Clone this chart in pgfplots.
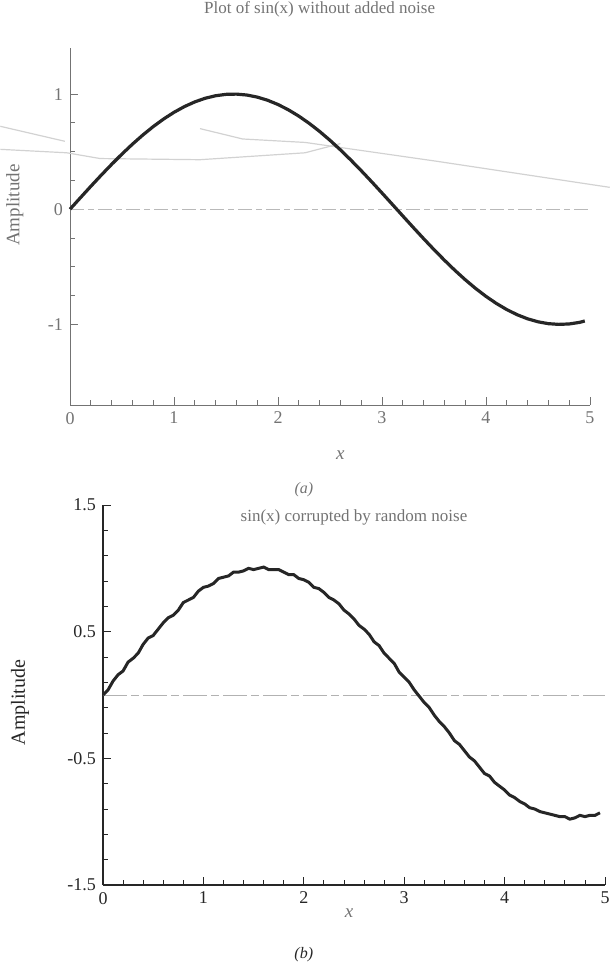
\documentclass[border=0pt]{standalone}
\usepackage{fontspec}
\setmainfont{Liberation Serif}
\usepackage{pgfplots}
\pgfplotsset{compat=1.18}

\definecolor{ink}{gray}{0.15}
\definecolor{faded}{gray}{0.45}

\pgfplotsset{scanaxis/.style={
    scale only axis,
    axis x line=bottom, axis y line=left,
    axis line style={-, line width=0.6pt},
    tick align=inside,
    major tick length=4pt, minor tick length=2.5pt,
    xmin=0, xmax=5, xtick={0,...,5}, minor x tick num=4,
    /pgf/number format/assume math mode=true,
    tick label style={font=\fontsize{9}{10}\selectfont},
    label style={font=\fontsize{9.5}{11}\selectfont},
    title style={font=\fontsize{8.5}{10}\selectfont},
    clip=false,
}}

\begin{document}
\begin{tikzpicture}
\path[use as bounding box] (0pt,0pt) rectangle (305pt,-484pt);

% (a) clean sine
\begin{axis}[scanaxis,
    at={(35pt,-202.5pt)}, anchor=south west,
    width=260pt, height=178.5pt,
    ymin=-1.7, ymax=1.4,
    ytick={-1,0,1}, minor y tick num=3,
    axis line style={faded, line width=0.5pt},
    every tick/.style={faded},
    tick label style={text=faded},
    title={Plot of sin(x) without added noise},
    title style={at={(axis description cs:0.48,1)}, anchor=south, yshift=6pt, text=faded},
    xlabel={\textit{x}},
    xlabel style={at={(axis description cs:0.52,-0.14)}, anchor=center, text=faded},
    ylabel={Amplitude},
    ylabel style={at={(axis description cs:-0.106,0.56)}, anchor=center, text=faded},
]
% show-through from the facing page
\addplot[gray!35, line width=0.6pt] coordinates {(-0.67,0.72) (-0.05,0.59)};
\addplot[gray!35, line width=0.6pt] coordinates {(1.25,0.70) (1.66,0.61) (2.26,0.58) (3.5,0.42) (5.19,0.19)};
\addplot[gray!35, line width=0.6pt] coordinates {(-0.67,0.52) (-0.03,0.49) (0.29,0.44) (1.25,0.43) (2.26,0.49) (2.6,0.57)};
% zero line
\addplot[gray!55, line width=0.5pt, dash pattern=on 7pt off 2pt on 3pt off 2pt] coordinates {(0,0) (5,0)};
\addplot[ink, line width=1.6pt] coordinates {
(0.0,0.0000) (0.1,0.0998) (0.2,0.1987) (0.3,0.2955) (0.4,0.3894)
(0.5,0.4794) (0.6,0.5646) (0.7,0.6442) (0.8,0.7174) (0.9,0.7833)
(1.0,0.8415) (1.1,0.8912) (1.2,0.9320) (1.3,0.9636) (1.4,0.9854)
(1.5,0.9975) (1.6,0.9996) (1.7,0.9917) (1.8,0.9738) (1.9,0.9463)
(2.0,0.9093) (2.1,0.8632) (2.2,0.8085) (2.3,0.7457) (2.4,0.6755)
(2.5,0.5985) (2.6,0.5155) (2.7,0.4274) (2.8,0.3350) (2.9,0.2392)
(3.0,0.1411) (3.1,0.0416) (3.2,-0.0584) (3.3,-0.1577) (3.4,-0.2555)
(3.5,-0.3508) (3.6,-0.4425) (3.7,-0.5298) (3.8,-0.6119) (3.9,-0.6878)
(4.0,-0.7568) (4.1,-0.8183) (4.2,-0.8716) (4.3,-0.9162) (4.4,-0.9516)
(4.5,-0.9775) (4.6,-0.9937) (4.7,-0.9999) (4.8,-0.9962) (4.9,-0.9825)
(4.95,-0.9705)
};
\node[text=faded, font=\fontsize{8}{9}\selectfont\itshape] at (axis description cs:0.45,-0.238) {(a)};
\end{axis}

% (b) noisy sine
\begin{axis}[scanaxis,
    at={(51.5pt,-442.5pt)}, anchor=south west,
    width=251pt, height=190pt,
    ymin=-1.5, ymax=1.5,
    ytick={-1.5,-0.5,0.5,1.5}, minor y tick num=4,
    yticklabel style={/pgf/number format/fixed},
    axis line style={ink, line width=0.6pt},
    every tick/.style={ink},
    tick label style={text=ink},
    title={sin(x) corrupted by random noise},
    title style={at={(axis description cs:0.5,1)}, anchor=north, yshift=-5pt, text=faded},
    xlabel={\textit{x}},
    xlabel style={at={(axis description cs:0.49,-0.075)}, anchor=center, text=faded},
    ylabel={Amplitude},
    ylabel style={at={(axis description cs:-0.165,0.48)}, anchor=center, text=ink, font=\fontsize{10}{12}\selectfont},
]
\addplot[gray!60, line width=0.5pt, dash pattern=on 12pt off 2pt on 4pt off 2pt] coordinates {(0,0) (5,0)};
\addplot[ink, line width=1.5pt] coordinates {
(0.00,0.00) (0.05,0.04) (0.10,0.11) (0.15,0.16) (0.20,0.19)
(0.25,0.26) (0.30,0.29) (0.35,0.33) (0.40,0.40) (0.45,0.45)
(0.50,0.47) (0.55,0.52) (0.60,0.57) (0.65,0.61) (0.70,0.63)
(0.75,0.67) (0.80,0.73) (0.85,0.75) (0.90,0.77) (0.95,0.82)
(1.00,0.85) (1.05,0.86) (1.10,0.88) (1.15,0.92) (1.20,0.93)
(1.25,0.94) (1.30,0.97) (1.35,0.97) (1.40,0.98) (1.45,1.00)
(1.50,0.99) (1.55,1.00) (1.60,1.01) (1.65,0.99) (1.70,0.99)
(1.75,0.99) (1.80,0.97) (1.85,0.95) (1.90,0.95) (1.95,0.92)
(2.00,0.91) (2.05,0.89) (2.10,0.85) (2.15,0.84) (2.20,0.81)
(2.25,0.77) (2.30,0.75) (2.35,0.72) (2.40,0.67) (2.45,0.64)
(2.50,0.60) (2.55,0.55) (2.60,0.52) (2.65,0.48) (2.70,0.42)
(2.75,0.39) (2.80,0.33) (2.85,0.29) (2.90,0.25) (2.95,0.18)
(3.00,0.14) (3.05,0.10) (3.10,0.04) (3.15,-0.01) (3.20,-0.06)
(3.25,-0.10) (3.30,-0.16) (3.35,-0.21) (3.40,-0.25) (3.45,-0.30)
(3.50,-0.36) (3.55,-0.39) (3.60,-0.44) (3.65,-0.49) (3.70,-0.52)
(3.75,-0.57) (3.80,-0.62) (3.85,-0.64) (3.90,-0.69) (3.95,-0.72)
(4.00,-0.75) (4.05,-0.79) (4.10,-0.81) (4.15,-0.84) (4.20,-0.86)
(4.25,-0.89) (4.30,-0.90) (4.35,-0.92) (4.40,-0.93) (4.45,-0.94)
(4.50,-0.95) (4.55,-0.96) (4.60,-0.96) (4.65,-0.98) (4.70,-0.97)
(4.75,-0.95) (4.80,-0.96) (4.85,-0.95) (4.90,-0.95) (4.95,-0.93)
};
\node[text=ink, font=\fontsize{8}{9}\selectfont\itshape] at (axis description cs:0.40,-0.184) {(b)};
\end{axis}
\end{tikzpicture}
\end{document}
